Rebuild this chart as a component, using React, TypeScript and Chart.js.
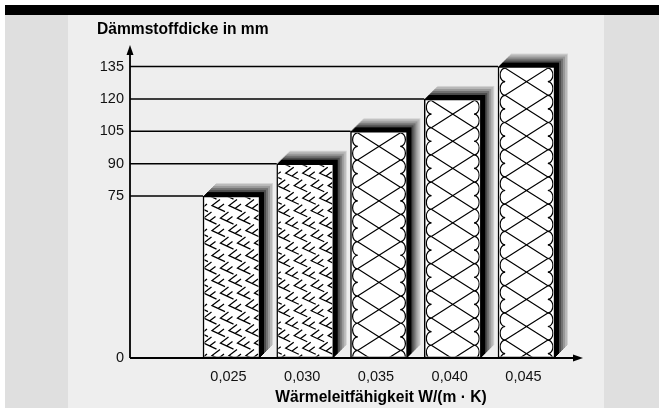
import React, { useEffect, useRef } from 'react';
import { Chart, registerables } from 'chart.js';

Chart.register(...registerables);

// ---------- data ----------
const xValues = [0.025, 0.03, 0.035, 0.04, 0.045];
const xLabels = ['0,025', '0,030', '0,035', '0,040', '0,045'];
const thickness = [75, 90, 105, 120, 135];
const yTickValues = [0, 75, 90, 105, 120, 135];
const materials = ['foam', 'foam', 'wool', 'wool', 'wool'];
const yTitle = 'Dämmstoffdicke in mm';
const xTitle = 'Wärmeleitfähigkeit W/(m · K)';

// ---------- style ----------
const FONT = '"Liberation Sans", Arial, Helvetica, sans-serif';
const SHADES = [
  '#000', '#000', '#000', '#000',
  '#4d4d4d', '#4d4d4d', '#737373', '#737373',
  '#999999', '#999999', '#b8b8b8', '#b8b8b8', '#d2d2d2',
];

function drawFoam(ctx: CanvasRenderingContext2D, x0: number, y0: number, x1: number, y1: number) {
  ctx.save();
  ctx.beginPath();
  ctx.rect(x0, y0, x1 - x0, y1 - y0);
  ctx.clip();
  ctx.strokeStyle = '#000';
  ctx.lineWidth = 1.3;
  const tw = 17;
  const th = 12.5;
  let row = 0;
  for (let y = y0 - th + 2; y < y1 + th; y += th, row++) {
    const off = (row % 2) * (tw / 2);
    for (let x = x0 - tw + off - 2; x < x1 + tw; x += tw) {
      ctx.beginPath();
      ctx.moveTo(x + 9, y);
      ctx.lineTo(x + 1, y + 6);
      ctx.lineTo(x + 14, y + 12);
      ctx.moveTo(x + 7, y + 9);
      ctx.lineTo(x + 13, y + 4.5);
      ctx.stroke();
    }
  }
  ctx.restore();
}

function drawWool(ctx: CanvasRenderingContext2D, x0: number, y0: number, x1: number, y1: number) {
  ctx.save();
  ctx.beginPath();
  ctx.rect(x0, y0, x1 - x0, y1 - y0);
  ctx.clip();
  ctx.strokeStyle = '#000';
  ctx.lineWidth = 1.2;
  const d = 13.6;
  const rx = 5;
  const L = x0 + rx + 0.6;
  const R = x1 - rx - 0.6;
  let k = 0;
  for (let ya = y0; ya < y1; ya += d, k++) {
    const cy = ya + d / 2;
    ctx.beginPath();
    ctx.ellipse(L, cy, rx, d / 2, 0, Math.PI / 2, (3 * Math.PI) / 2);
    ctx.stroke();
    ctx.beginPath();
    ctx.ellipse(R, cy, rx, d / 2, 0, -Math.PI / 2, Math.PI / 2);
    ctx.stroke();
    if (k % 2 === 0) {
      const yb = ya + 2 * d;
      ctx.beginPath();
      ctx.moveTo(L, ya);
      ctx.lineTo(R, yb);
      ctx.moveTo(R, ya);
      ctx.lineTo(L, yb);
      ctx.stroke();
    }
  }
  ctx.restore();
}

const decoPlugin = {
  id: 'deco',
  beforeDatasetsDraw(chart: any) {
    const ctx: CanvasRenderingContext2D = chart.ctx;
    const area = chart.chartArea;
    const meta = chart.getDatasetMeta(0);
    ctx.save();
    ctx.strokeStyle = '#000';
    ctx.lineWidth = 1.5;
    meta.data.forEach((bar: any) => {
      const p = bar.getProps(['x', 'y', 'width'], true);
      ctx.beginPath();
      ctx.moveTo(area.left, p.y);
      ctx.lineTo(p.x - p.width / 2, p.y);
      ctx.stroke();
    });
    meta.data.forEach((bar: any) => {
      const p = bar.getProps(['x', 'y', 'base', 'width'], true);
      const left = p.x - p.width / 2;
      for (let k = SHADES.length; k >= 1; k--) {
        ctx.fillStyle = SHADES[k - 1];
        ctx.fillRect(left + k, p.y - k, p.width, p.base - p.y);
      }
    });
    ctx.restore();
  },
  afterDatasetsDraw(chart: any) {
    const ctx: CanvasRenderingContext2D = chart.ctx;
    const area = chart.chartArea;
    const meta = chart.getDatasetMeta(0);
    meta.data.forEach((bar: any, i: number) => {
      const p = bar.getProps(['x', 'y', 'base', 'width'], true);
      const x0 = p.x - p.width / 2 + 1.5;
      const x1 = p.x + p.width / 2 - 1.5;
      const y0 = p.y + 1.5;
      const y1 = p.base - 1.5;
      if (materials[i] === 'foam') drawFoam(ctx, x0, y0, x1, y1);
      else drawWool(ctx, x0, y0, x1, y1);
    });
    ctx.save();
    ctx.strokeStyle = '#000';
    ctx.fillStyle = '#000';
    ctx.lineWidth = 1.8;
    ctx.beginPath();
    ctx.moveTo(area.left, area.bottom);
    ctx.lineTo(area.left, area.top + 8);
    ctx.moveTo(area.left, area.bottom);
    ctx.lineTo(area.right - 8, area.bottom);
    ctx.stroke();
    ctx.beginPath();
    ctx.moveTo(area.left, area.top);
    ctx.lineTo(area.left - 3.5, area.top + 10);
    ctx.lineTo(area.left + 3.5, area.top + 10);
    ctx.closePath();
    ctx.fill();
    ctx.beginPath();
    ctx.moveTo(area.right, area.bottom);
    ctx.lineTo(area.right - 10, area.bottom - 3.5);
    ctx.lineTo(area.right - 10, area.bottom + 3.5);
    ctx.closePath();
    ctx.fill();
    ctx.restore();
  },
  afterDraw(chart: any) {
    const ctx: CanvasRenderingContext2D = chart.ctx;
    ctx.save();
    ctx.fillStyle = '#000';
    ctx.font = `bold 15.6px ${FONT}`;
    ctx.textBaseline = 'middle';
    ctx.textAlign = 'left';
    ctx.fillText(yTitle, 97, 30);
    ctx.textAlign = 'center';
    ctx.fillText(xTitle, 381, 398);
    ctx.restore();
  },
};

export default function App() {
  const ref = useRef<HTMLCanvasElement>(null);
  useEffect(() => {
    if (!ref.current) return;
    const chart = new Chart(ref.current, {
      type: 'bar',
      data: {
        datasets: [
          {
            data: xValues.map((x, i) => ({ x, y: thickness[i] })),
            backgroundColor: '#ffffff',
            borderColor: '#000000',
            borderWidth: 1.5,
            borderSkipped: false,
            barThickness: 57,
          } as any,
        ],
      },
      options: {
        animation: false,
        responsive: false,
        maintainAspectRatio: false,
        events: [],
        layout: { padding: { left: 0, right: 76, top: 45, bottom: 0 } },
        plugins: {
          legend: { display: false },
          tooltip: { enabled: false },
          title: { display: false },
        },
        scales: {
          x: {
            type: 'linear',
            offset: false,
            min: 0.018119,
            max: 0.04883,
            grid: { display: false, drawTicks: false },
            border: { display: false },
            afterBuildTicks: (s: any) => {
              s.ticks = xValues.map((v) => ({ value: v }));
            },
            afterFit: (s: any) => {
              s.height = 50;
            },
            ticks: {
              callback: (_v: any, i: number) => xLabels[i],
              font: { family: FONT, size: 14.5 },
              color: '#111',
              padding: 10,
              labelOffset: -3,
              autoSkip: false,
              maxRotation: 0,
            },
          },
          y: {
            type: 'linear',
            min: 0,
            max: 145,
            grid: { display: false, drawTicks: false },
            border: { display: false },
            afterBuildTicks: (s: any) => {
              s.ticks = yTickValues.map((v) => ({ value: v }));
            },
            afterFit: (s: any) => {
              s.width = 130;
            },
            ticks: {
              callback: (v: any) => String(v),
              font: { family: FONT, size: 14.5 },
              color: '#111',
              padding: 6,
              autoSkip: false,
            },
          },
        },
      } as any,
      plugins: [decoPlugin],
    });
    return () => chart.destroy();
  }, []);

  return (
    <div style={{ position: 'fixed', left: 0, top: 0, width: 659, height: 408, background: '#ffffff' }}>
      <div style={{ position: 'absolute', left: 5, top: 5, right: 0, bottom: 0, background: '#dfdfdf' }} />
      <div style={{ position: 'absolute', left: 5, top: 5, right: 0, height: 10, background: '#000' }} />
      <div style={{ position: 'absolute', left: 68, top: 15, width: 536, bottom: 0, background: '#eeeeee' }} />
      <canvas
        ref={ref}
        width={659}
        height={408}
        style={{ position: 'absolute', left: 0, top: 0, width: 659, height: 408 }}
      />
    </div>
  );
}
